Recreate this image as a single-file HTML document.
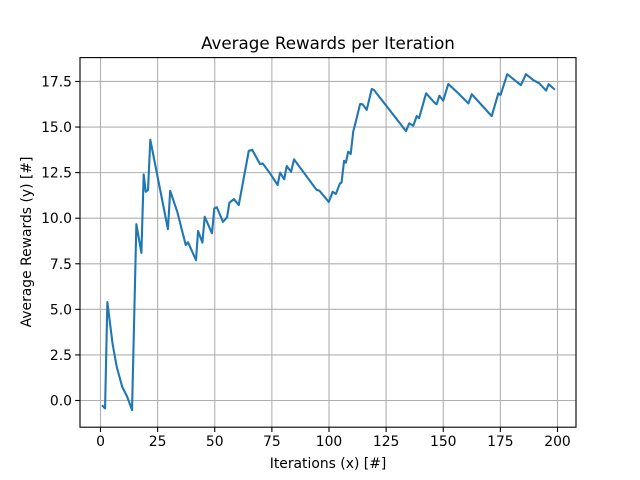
<!DOCTYPE html>
<html><head><meta charset="utf-8"><style>
html,body{margin:0;padding:0;background:#fff;}
svg{display:block;font-family:"DejaVu Sans","Liberation Sans",sans-serif;}
</style></head><body>
<svg id="chart" width="640" height="480" viewBox="0 0 640 480">
<rect x="0" y="0" width="640" height="480" fill="#fff"/>
<g id="grid"></g>
<g id="ticks"></g>
<path id="line" fill="none" stroke="#1f77b4" stroke-width="2.1" stroke-linejoin="round" stroke-linecap="square"/>
<rect x="80" y="57.6" width="496" height="369.6" fill="none" stroke="#000" stroke-width="1.1"/>
<text x="328" y="49" text-anchor="middle" font-size="16.7">Average Rewards per Iteration</text>
<text x="328" y="468" text-anchor="middle" font-size="13.9">Iterations (x) [#]</text>
<text x="0" y="0" transform="translate(31,242) rotate(-90)" text-anchor="middle" font-size="13.9">Average Rewards (y) [#]</text>
</svg>
<script>
const xTicks = [0, 25, 50, 75, 100, 125, 150, 175, 200];
const yTicks = [0.0, 2.5, 5.0, 7.5, 10.0, 12.5, 15.0, 17.5];
const yTickLabels = ["0.0", "2.5", "5.0", "7.5", "10.0", "12.5", "15.0", "17.5"];
const iterations = [1,2,3,5.3,7.1,9.5,11.7,13.8,15.7,17.9,18.9,19.8,20.8,21.8,29.5,30.5,33.6,37.3,38.3,41.8,42.7,44.6,45.6,48.8,49.8,50.9,53.6,55.4,56.4,58.4,60.5,64.9,66.4,69.8,71,74.2,77.5,78.6,80.4,81.5,83.4,84.7,94.6,95.8,99.9,101.6,103,104.8,105.5,106.6,107.4,108.4,109.5,110.6,112.1,113.6,114.7,116.5,118.7,119.7,133.7,135.1,136.9,138.4,139.4,142.5,146.4,147.1,148.3,150,152.2,156.6,161,162.5,171.2,174.1,175.1,178,182.1,184,186.2,189.4,192,195,196.1,198.5];
const rewards = [-0.3,-0.43,5.4,3.1,1.85,0.75,0.2,-0.52,9.67,8.1,12.4,11.45,11.55,14.3,9.4,11.5,10.35,8.53,8.68,7.7,9.3,8.66,10.08,9.17,10.54,10.6,9.8,10.05,10.85,11.05,10.72,13.7,13.75,12.97,13.0,12.46,11.82,12.5,12.13,12.86,12.55,13.23,11.55,11.51,10.89,11.45,11.33,11.91,11.95,13.15,13.05,13.65,13.52,14.75,15.48,16.26,16.25,15.94,17.09,17.03,14.78,15.2,15.08,15.6,15.48,16.85,16.3,16.25,16.72,16.45,17.36,16.85,16.3,16.8,15.6,16.85,16.76,17.9,17.49,17.3,17.9,17.58,17.4,17.0,17.35,17.09];

const X = v => 100.5 + v * 2.285;
const Y = v => 400.5 - v * 18.23;
const NS = "http://www.w3.org/2000/svg";
const grid = document.getElementById('grid');
const ticks = document.getElementById('ticks');
function mk(tag, attrs, parent) {
  const el = document.createElementNS(NS, tag);
  for (const k in attrs) el.setAttribute(k, attrs[k]);
  parent.appendChild(el);
  return el;
}
xTicks.forEach(t => {
  const gl = mk('line', {x1: X(t), x2: X(t), y1: 57.6, y2: 427.2, stroke: '#b0b0b0', 'stroke-width': 1.1}, grid);
  
  
  const tk = mk('line', {x1: X(t), x2: X(t), y1: 427.2, y2: 432, stroke: '#000', 'stroke-width': 1.1}, ticks);
  
  
  const tx = mk('text', {x: X(t), y: 446, 'text-anchor': 'middle', 'font-size': 13.9}, ticks);
  tx.textContent = String(t);
  
  
});
yTicks.forEach((t, i) => {
  const gl = mk('line', {x1: 80, x2: 576, y1: Y(t), y2: Y(t), stroke: '#b0b0b0', 'stroke-width': 1.1}, grid);
  
  
  const tk = mk('line', {x1: 75.2, x2: 80, y1: Y(t), y2: Y(t), stroke: '#000', 'stroke-width': 1.1}, ticks);
  
  
  const tx = mk('text', {x: 72, y: Y(t) + 5, 'text-anchor': 'end', 'font-size': 13.9}, ticks);
  tx.textContent = yTickLabels[i];
  
  
});
document.getElementById('line').setAttribute('d',
  iterations.map((v, i) => (i ? 'L' : 'M') + X(v).toFixed(2) + ' ' + Y(rewards[i]).toFixed(2)).join(' '));
</script>
</body></html>
